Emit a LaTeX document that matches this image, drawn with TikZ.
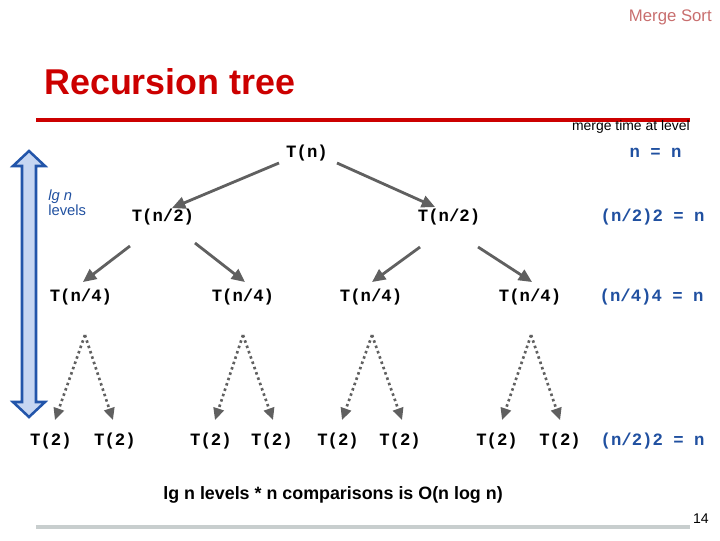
\documentclass[tikz,border=0pt]{standalone}
\usepackage{fontspec}
\setmainfont{Liberation Sans}
\setmonofont{Liberation Mono}
\definecolor{titlered}{RGB}{204, 0, 0}
\definecolor{headpink}{RGB}{200, 110, 110}
\definecolor{arrowgray}{RGB}{96, 96, 96}
\definecolor{levelblue}{RGB}{32, 80, 160}
\definecolor{levelline}{RGB}{34, 85, 170}
\definecolor{levelfill}{RGB}{198, 214, 242}
\definecolor{rulegray}{RGB}{200, 206, 206}
\usetikzlibrary{arrows.meta, positioning}

\begin{document}
\begin{tikzpicture}[
                x=0.025cm, y=-0.025cm, on grid,
                term/.style={font=\fontsize{12.3}{14}\selectfont\ttfamily\bfseries, inner sep=1pt, text height=8pt, text depth=2.5pt},
                cost/.style={term, text=levelblue, anchor=west},
                arrow/.style={draw=arrowgray, line width=2pt, ->, >={Triangle[length=9.5pt, width=8.5pt]}},
                dotarrow/.style={draw=arrowgray, line width=1.9pt, dash pattern=on 1.8pt off 2.2pt, ->, >={Triangle[length=8.5pt, width=7.5pt]}},
                rule/.style={line width=3.5pt}
            ]%
            \useasboundingbox (0,0) rectangle (720,540);
            %
            % === Cabecera ===
            \node[anchor=east, inner sep=0, text=headpink, font=\fontsize{11.9}{14}\selectfont] (hdr) at (712,17) {Merge Sort};
            \node[anchor=west, inner sep=0, text=titlered, font=\fontsize{25.5}{30}\selectfont\bfseries] (title) at (44,82) {Recursion tree};
            \draw[rule, titlered] (36,120) -- (690,120);
            \node[anchor=east, inner sep=0, font=\fontsize{9.9}{12}\selectfont] (mergelbl) at (690,127) {merge time at level};
            %
            % === Arbol de recursion ===
            \node[term] (tn) at (307,154) {T(n)};
            \node[term, below left=1.6cm and 3.6cm of tn] (tn2a) {T(n/2)};
            \node[term, below right=1.6cm and 3.55cm of tn] (tn2b) {T(n/2)};
            \node[term, below left=2cm and 2.05cm of tn2a] (tn4a) {T(n/4)};
            \node[term, below right=2cm and 2cm of tn2a] (tn4b) {T(n/4)};
            \node[term, below left=2cm and 1.95cm of tn2b] (tn4c) {T(n/4)};
            \node[term, below right=2cm and 2.025cm of tn2b] (tn4d) {T(n/4)};
            \node[term, below left=3.6cm and 0.75cm of tn4a] (t2a) {T(2)};
            \node[term, below right=3.6cm and 0.85cm of tn4a] (t2b) {T(2)};
            \node[term, below left=3.6cm and 0.8cm of tn4b] (t2c) {T(2)};
            \node[term, below right=3.6cm and 0.725cm of tn4b] (t2d) {T(2)};
            \node[term, below left=3.6cm and 0.825cm of tn4c] (t2e) {T(2)};
            \node[term, below right=3.6cm and 0.725cm of tn4c] (t2f) {T(2)};
            \node[term, below left=3.6cm and 0.825cm of tn4d] (t2g) {T(2)};
            \node[term, below right=3.6cm and 0.75cm of tn4d] (t2h) {T(2)};
            %
            % Flechas entre niveles
            \draw[arrow] ([shift={(-28,9)}]tn.center) -- ([shift={(9,-10)}]tn2a.center);
            \draw[arrow] ([shift={(30,9)}]tn.center) -- ([shift={(-14,-11)}]tn2b.center);
            \draw[arrow] ([shift={(-33,28)}]tn2a.center) -- ([shift={(2,-16)}]tn4a.center);
            \draw[arrow] ([shift={(32,25)}]tn2a.center) -- ([shift={(2,-16)}]tn4b.center);
            \draw[arrow] ([shift={(-29,29)}]tn2b.center) -- ([shift={(1,-16)}]tn4c.center);
            \draw[arrow] ([shift={(29,29)}]tn2b.center) -- ([shift={(2,-16)}]tn4d.center);
            %
            % Niveles intermedios (punteados)
            \draw[dotarrow] ([shift={(4,37)}]tn4a.center) -- ([shift={(4,-22)}]t2a.center);
            \draw[dotarrow] ([shift={(4,37)}]tn4a.center) -- ([shift={(-2,-22)}]t2b.center);
            \draw[dotarrow] ([shift={(0,37)}]tn4b.center) -- ([shift={(4,-22)}]t2c.center);
            \draw[dotarrow] ([shift={(0,37)}]tn4b.center) -- ([shift={(1,-22)}]t2d.center);
            \draw[dotarrow] ([shift={(1,37)}]tn4c.center) -- ([shift={(4,-22)}]t2e.center);
            \draw[dotarrow] ([shift={(1,37)}]tn4c.center) -- ([shift={(2,-22)}]t2f.center);
            \draw[dotarrow] ([shift={(1,37)}]tn4d.center) -- ([shift={(5,-22)}]t2g.center);
            \draw[dotarrow] ([shift={(1,37)}]tn4d.center) -- ([shift={(0,-22)}]t2h.center);
            %
            % === Coste por nivel (derecha) ===
            \node[cost] (c1) at (628,154) {n = n};
            \node[cost] (c2) at (599,218) {(n/2)2 = n};
            \node[cost] (c3) at (598,298) {(n/4)4 = n};
            \node[cost] (c4) at (599,442) {(n/2)2 = n};
            %
            % === Flecha doble de niveles (izquierda) ===
            \filldraw[draw=levelline, fill=levelfill, line width=1.8pt, line join=miter]
                (29,151) -- (45,166) -- (36,166) -- (36,402) -- (45,402) -- (29,417)
                -- (13,402) -- (22,402) -- (22,166) -- (13,166) -- cycle;
            \node[anchor=west, inner sep=0, align=left, text=levelblue, font=\fontsize{10.5}{10.5}\selectfont] (lvl) at (48,203) {\textit{lg n}\\levels};
            %
            % === Pie ===
            \node[font=\fontsize{12.7}{15}\selectfont\bfseries] (total) at (333,495) {lg n levels * n comparisons is O(n log n)};
            \draw[rule, rulegray] (36,527) -- (690,527);
            \node[anchor=east, inner sep=0, font=\fontsize{10}{12}\selectfont] (pg) at (709,519) {14};
        \end{tikzpicture}
\end{document}
